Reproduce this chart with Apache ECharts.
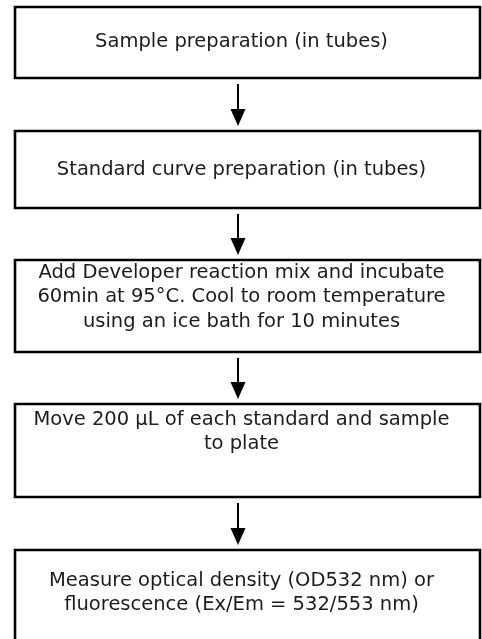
<!DOCTYPE html>
<html>
<head>
<meta charset="utf-8">
<script src="https://cdn.jsdelivr.net/npm/echarts@6/dist/echarts.min.js"></script>
<style>
html,body{margin:0;padding:0;background:#fff;}
#flowChart{width:482px;height:639px;}
</style>
</head>
<body>
<div id="flowChart"></div>
<script>
var steps = [
	'Sample preparation (in tubes)',
	'Standard curve preparation (in tubes)',
	'Add Developer reaction mix and incubate\n60min at 95°C. Cool to room temperature\nusing an ice bath for 10 minutes',
	'Move 200 µL of each standard and sample\nto plate',
	'Measure optical density (OD532 nm) or\nfluorescence (Ex/Em = 532/553 nm)'
];
// box extents along the (hidden) vertical axis
var boxTop = [7, 131, 260, 404, 550];
var boxBottom = [78, 208, 352, 497, 660];
var textMid = [42, 170, 297, 432, 593];

var flowChart = echarts.init(document.getElementById('flowChart'));

var boxData = steps.map(function (s, i) {
	return [i, boxTop[i], boxBottom[i], textMid[i]];
});
var arrowData = [];
for (var i = 0; i < steps.length - 1; i++) {
	arrowData.push([i, boxBottom[i], boxTop[i + 1]]);
}

var option = {
	animation: false,
	grid: { left: 0, right: 0, top: 0, bottom: 0 },
	xAxis: { type: 'value', min: 0, max: 482, show: false },
	yAxis: { type: 'value', min: 0, max: 639, inverse: true, show: false },
	series: [{
		type: 'custom',
		data: boxData,
		renderItem: function (params, api) {
			var i = api.value(0);
			var p1 = api.coord([15, api.value(1)]);
			var p2 = api.coord([480, api.value(2)]);
			var mid = api.coord([241.5, api.value(3)]);
			return {
				type: 'group',
				children: [{
					type: 'rect',
					shape: { x: p1[0], y: p1[1], width: p2[0] - p1[0], height: p2[1] - p1[1] },
					style: { fill: '#fff', stroke: '#000', lineWidth: 2.6 }
				}, {
					type: 'text',
					x: mid[0],
					y: mid[1],
					style: {
						text: steps[i],
						fill: '#1c1c1c',
						font: '19.5px "DejaVu Sans"',
						lineHeight: 24.5,
						align: 'center',
						verticalAlign: 'middle'
					}
				}]
			};
		}
	}, {
		type: 'custom',
		data: arrowData,
		renderItem: function (params, api) {
			var a = api.coord([238, api.value(1) + 6]);
			var b = api.coord([238, api.value(2) - 5]);
			return {
				type: 'group',
				children: [{
					type: 'line',
					shape: { x1: a[0], y1: a[1], x2: b[0], y2: b[1] - 14 },
					style: { stroke: '#000', lineWidth: 2 }
				}, {
					type: 'polygon',
					shape: { points: [[b[0] - 7.5, b[1] - 17], [b[0] + 7.5, b[1] - 17], [b[0], b[1]]] },
					style: { fill: '#000' }
				}]
			};
		}
	}]
};
flowChart.setOption(option);
</script>
</body>
</html>
